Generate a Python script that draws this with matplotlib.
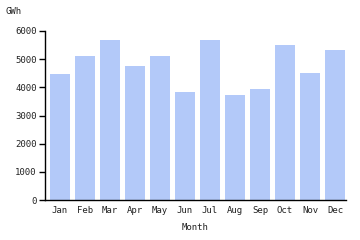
import matplotlib
matplotlib.use("Agg")
import matplotlib.pyplot as plt

months = ["Jan", "Feb", "Mar", "Apr", "May", "Jun", "Jul", "Aug", "Sep", "Oct", "Nov", "Dec"]
gwh = [4470, 5120, 5680, 4750, 5100, 3840, 5680, 3720, 3930, 5490, 4500, 5340]
yticks = [0, 1000, 2000, 3000, 4000, 5000, 6000]

plt.rcParams['font.family'] = ['DejaVu Sans Mono']
fig = plt.figure(figsize=(3.6, 2.4), dpi=100)
ax = fig.add_axes([45/360, 40/240, 301/360, 169/240])
x = list(range(len(months)))
ax.bar(x, gwh, width=0.8, color="#b3c9f9", edgecolor="none")
ax.set_xlim(-0.6, 11.44)
ax.set_ylim(0, 6000)
ax.set_yticks(yticks)
ax.set_yticklabels([str(v) for v in yticks], fontsize=6.5, color="#222222")
ax.set_xticks(x)
ax.set_xticklabels(months, fontsize=6.5, color="#222222")
ax.tick_params(axis='x', length=0, pad=4)
ax.tick_params(axis='y', length=4, width=1, pad=2)
for s in ["top", "right"]:
    ax.spines[s].set_visible(False)
ax.spines["left"].set_linewidth(1)
ax.spines["bottom"].set_linewidth(1)
ax.set_xlabel("Month", fontsize=6.5, color="#222222", labelpad=6)
fig.text(5/360, 1 - 12/240, "GWh", fontsize=6.5, color="#222222", va="center", ha="left")
fig.savefig("out.png", dpi=100)
